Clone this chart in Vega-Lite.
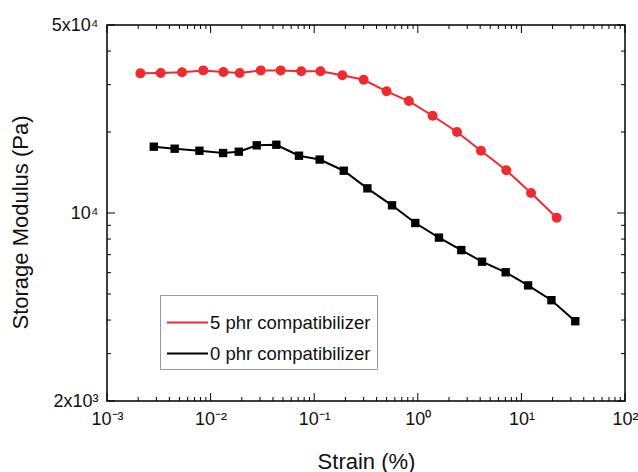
{
  "$schema": "https://vega.github.io/schema/vega-lite/v6.json",
  "width": 518,
  "height": 376,
  "autosize": "none",
  "padding": {"left": 107, "top": 25, "right": 13, "bottom": 71},
  "background": "white",
  "config": {
    "view": {"stroke": "#000", "strokeWidth": 1.5},
    "font": "Liberation Sans",
    "axis": {
      "domain": false,
      "grid": false,
      "ticks": false,
      "tickSize": 0,
      "labelColor": "#111",
      "titleColor": "#111",
      "labelFont": "Liberation Sans",
      "titleFont": "Liberation Sans",
      "labelFontSize": 18,
      "titleFontSize": 22,
      "titleFontWeight": "normal",
      "labelOverlap": false,
      "labelFlush": false
    }
  },
  "datasets": {
    "xmajor": [{"v": 0.001}, {"v": 0.01}, {"v": 0.1}, {"v": 1}, {"v": 10}, {"v": 100}],
    "xminor": [{"v": 0.002}, {"v": 0.003}, {"v": 0.004}, {"v": 0.005}, {"v": 0.006}, {"v": 0.007}, {"v": 0.008}, {"v": 0.009}, {"v": 0.02}, {"v": 0.03}, {"v": 0.04}, {"v": 0.05}, {"v": 0.06}, {"v": 0.07}, {"v": 0.08}, {"v": 0.09}, {"v": 0.2}, {"v": 0.3}, {"v": 0.4}, {"v": 0.5}, {"v": 0.6}, {"v": 0.7}, {"v": 0.8}, {"v": 0.9}, {"v": 2}, {"v": 3}, {"v": 4}, {"v": 5}, {"v": 6}, {"v": 7}, {"v": 8}, {"v": 9}, {"v": 20}, {"v": 30}, {"v": 40}, {"v": 50}, {"v": 60}, {"v": 70}, {"v": 80}, {"v": 90}],
    "ymajor": [{"v": 2000}, {"v": 10000}, {"v": 50000}],
    "yminor": [{"v": 3000}, {"v": 4000}, {"v": 5000}, {"v": 6000}, {"v": 7000}, {"v": 8000}, {"v": 9000}, {"v": 20000}, {"v": 30000}, {"v": 40000}]
  },
  "data": {
    "values": [
      {"strain": 0.0021, "modulus": 33050, "sample": "5 phr compatibilizer"},
      {"strain": 0.0033, "modulus": 33130, "sample": "5 phr compatibilizer"},
      {"strain": 0.0053, "modulus": 33340, "sample": "5 phr compatibilizer"},
      {"strain": 0.0085, "modulus": 33900, "sample": "5 phr compatibilizer"},
      {"strain": 0.0133, "modulus": 33440, "sample": "5 phr compatibilizer"},
      {"strain": 0.0191, "modulus": 33130, "sample": "5 phr compatibilizer"},
      {"strain": 0.0305, "modulus": 33900, "sample": "5 phr compatibilizer"},
      {"strain": 0.0475, "modulus": 33900, "sample": "5 phr compatibilizer"},
      {"strain": 0.075, "modulus": 33630, "sample": "5 phr compatibilizer"},
      {"strain": 0.115, "modulus": 33630, "sample": "5 phr compatibilizer"},
      {"strain": 0.187, "modulus": 32500, "sample": "5 phr compatibilizer"},
      {"strain": 0.30, "modulus": 31290, "sample": "5 phr compatibilizer"},
      {"strain": 0.50, "modulus": 28340, "sample": "5 phr compatibilizer"},
      {"strain": 0.82, "modulus": 26080, "sample": "5 phr compatibilizer"},
      {"strain": 1.39, "modulus": 22990, "sample": "5 phr compatibilizer"},
      {"strain": 2.39, "modulus": 20000, "sample": "5 phr compatibilizer"},
      {"strain": 4.07, "modulus": 17040, "sample": "5 phr compatibilizer"},
      {"strain": 7.15, "modulus": 14410, "sample": "5 phr compatibilizer"},
      {"strain": 12.4, "modulus": 11870, "sample": "5 phr compatibilizer"},
      {"strain": 21.9, "modulus": 9600, "sample": "5 phr compatibilizer"},
      {"strain": 0.00283, "modulus": 17640, "sample": "0 phr compatibilizer"},
      {"strain": 0.0045, "modulus": 17340, "sample": "0 phr compatibilizer"},
      {"strain": 0.0078, "modulus": 17040, "sample": "0 phr compatibilizer"},
      {"strain": 0.0132, "modulus": 16710, "sample": "0 phr compatibilizer"},
      {"strain": 0.0187, "modulus": 16900, "sample": "0 phr compatibilizer"},
      {"strain": 0.0279, "modulus": 17850, "sample": "0 phr compatibilizer"},
      {"strain": 0.0431, "modulus": 17940, "sample": "0 phr compatibilizer"},
      {"strain": 0.0713, "modulus": 16330, "sample": "0 phr compatibilizer"},
      {"strain": 0.113, "modulus": 15800, "sample": "0 phr compatibilizer"},
      {"strain": 0.193, "modulus": 14360, "sample": "0 phr compatibilizer"},
      {"strain": 0.326, "modulus": 12350, "sample": "0 phr compatibilizer"},
      {"strain": 0.564, "modulus": 10680, "sample": "0 phr compatibilizer"},
      {"strain": 0.946, "modulus": 9180, "sample": "0 phr compatibilizer"},
      {"strain": 1.60, "modulus": 8100, "sample": "0 phr compatibilizer"},
      {"strain": 2.63, "modulus": 7280, "sample": "0 phr compatibilizer"},
      {"strain": 4.17, "modulus": 6590, "sample": "0 phr compatibilizer"},
      {"strain": 7.05, "modulus": 6020, "sample": "0 phr compatibilizer"},
      {"strain": 11.6, "modulus": 5380, "sample": "0 phr compatibilizer"},
      {"strain": 19.5, "modulus": 4740, "sample": "0 phr compatibilizer"},
      {"strain": 33.1, "modulus": 3960, "sample": "0 phr compatibilizer"}
    ]
  },
  "layer": [
    {
      "mark": {"type": "line", "strokeWidth": 2},
      "encoding": {
        "x": {
          "field": "strain",
          "type": "quantitative",
          "scale": {"type": "log", "domain": [0.001, 100], "nice": false},
          "axis": {
            "orient": "bottom",
            "values": [0.001, 0.01, 0.1, 1, 10, 100],
            "labelExpr": "datum.value==0.001?'10⁻³':datum.value==0.01?'10⁻²':datum.value==0.1?'10⁻¹':datum.value==1?'10⁰':datum.value==10?'10¹':'10²'",
            "labelPadding": 9.5,
            "title": "Strain (%)",
            "titleY": 50,
            "titleBaseline": "top"
          }
        },
        "y": {
          "field": "modulus",
          "type": "quantitative",
          "scale": {"type": "log", "domain": [2000, 50000], "nice": false},
          "axis": {
            "orient": "left",
            "values": [2000, 10000, 50000],
            "labelExpr": "datum.value==2000?'2x10³':datum.value==10000?'10⁴':'5x10⁴'",
            "labelPadding": 9,
            "title": "Storage Modulus (Pa)",
            "titleX": -75,
            "titleY": 197,
            "titleAngle": -90,
            "titleAlign": "center",
            "titleBaseline": "bottom"
          }
        },
        "color": {
          "field": "sample",
          "type": "nominal",
          "scale": {"domain": ["5 phr compatibilizer", "0 phr compatibilizer"], "range": ["#ee2b2f", "#000000"]},
          "legend": {"title": null, "orient": "none", "legendX": 53, "legendY": 270, "padding": 6, "strokeColor": "#999", "fillColor": "white", "labelFont": "Liberation Sans", "labelFontSize": 18.5, "labelColor": "#111", "labelLimit": 400, "symbolType": "stroke", "symbolSize": 1681, "symbolStrokeWidth": 2, "symbolOpacity": 1, "labelOffset": 1, "rowPadding": -11.5}
        }
      }
    },
    {
      "transform": [{"filter": "datum.sample == '5 phr compatibilizer'"}],
      "mark": {"type": "point", "shape": "circle", "filled": true, "opacity": 1, "size": 100, "color": "#ee2b2f"},
      "encoding": {
        "x": {"field": "strain", "type": "quantitative", "axis": null},
        "y": {"field": "modulus", "type": "quantitative", "axis": null}
      }
    },
    {
      "transform": [{"filter": "datum.sample == '0 phr compatibilizer'"}],
      "mark": {"type": "point", "shape": "square", "filled": true, "opacity": 1, "size": 70, "color": "#000000"},
      "encoding": {
        "x": {"field": "strain", "type": "quantitative", "axis": null},
        "y": {"field": "modulus", "type": "quantitative", "axis": null}
      }
    },
    {
      "data": {"name": "xmajor"},
      "mark": {"type": "tick", "orient": "vertical", "size": 8, "thickness": 1, "color": "#000", "opacity": 1, "yOffset": -4},
      "encoding": {
        "x": {"field": "v", "type": "quantitative", "axis": null},
        "y": {"datum": 2000, "type": "quantitative", "axis": null}
      }
    },
    {
      "data": {"name": "xmajor"},
      "mark": {"type": "tick", "orient": "vertical", "size": 8, "thickness": 1, "color": "#000", "opacity": 1, "yOffset": 4},
      "encoding": {
        "x": {"field": "v", "type": "quantitative", "axis": null},
        "y": {"datum": 50000, "type": "quantitative", "axis": null}
      }
    },
    {
      "data": {"name": "xminor"},
      "mark": {"type": "tick", "orient": "vertical", "size": 4, "thickness": 1, "color": "#000", "opacity": 1, "yOffset": -2},
      "encoding": {
        "x": {"field": "v", "type": "quantitative", "axis": null},
        "y": {"datum": 2000, "type": "quantitative", "axis": null}
      }
    },
    {
      "data": {"name": "xminor"},
      "mark": {"type": "tick", "orient": "vertical", "size": 4, "thickness": 1, "color": "#000", "opacity": 1, "yOffset": 2},
      "encoding": {
        "x": {"field": "v", "type": "quantitative", "axis": null},
        "y": {"datum": 50000, "type": "quantitative", "axis": null}
      }
    },
    {
      "data": {"name": "ymajor"},
      "mark": {"type": "tick", "orient": "horizontal", "size": 8, "thickness": 1, "color": "#000", "opacity": 1, "xOffset": 4},
      "encoding": {
        "y": {"field": "v", "type": "quantitative", "axis": null},
        "x": {"datum": 0.001, "type": "quantitative", "axis": null}
      }
    },
    {
      "data": {"name": "ymajor"},
      "mark": {"type": "tick", "orient": "horizontal", "size": 8, "thickness": 1, "color": "#000", "opacity": 1, "xOffset": -4},
      "encoding": {
        "y": {"field": "v", "type": "quantitative", "axis": null},
        "x": {"datum": 100, "type": "quantitative", "axis": null}
      }
    },
    {
      "data": {"name": "yminor"},
      "mark": {"type": "tick", "orient": "horizontal", "size": 4, "thickness": 1, "color": "#000", "opacity": 1, "xOffset": 2},
      "encoding": {
        "y": {"field": "v", "type": "quantitative", "axis": null},
        "x": {"datum": 0.001, "type": "quantitative", "axis": null}
      }
    },
    {
      "data": {"name": "yminor"},
      "mark": {"type": "tick", "orient": "horizontal", "size": 4, "thickness": 1, "color": "#000", "opacity": 1, "xOffset": -2},
      "encoding": {
        "y": {"field": "v", "type": "quantitative", "axis": null},
        "x": {"datum": 100, "type": "quantitative", "axis": null}
      }
    }
  ],
  "resolve": {"axis": {"x": "independent", "y": "independent"}}
}
